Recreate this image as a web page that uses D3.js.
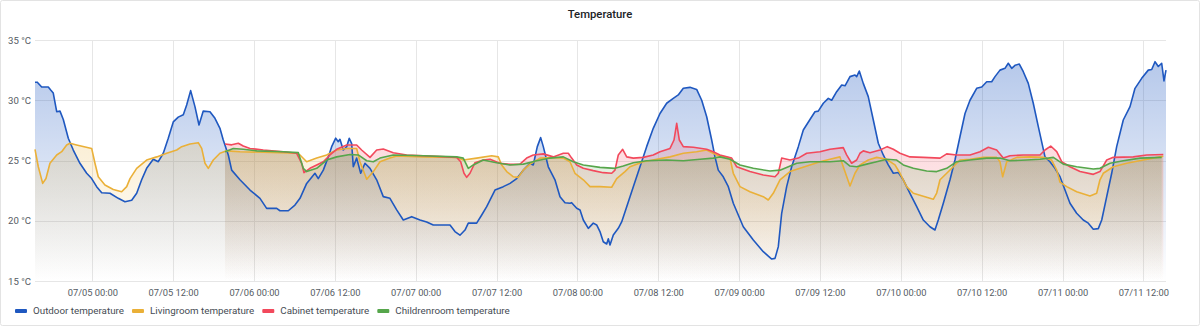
<!DOCTYPE html>
<html><head><meta charset="utf-8">
<script src="https://cdn.jsdelivr.net/npm/d3@7"></script>
<style>
html,body{margin:0;padding:0;background:#fff;}
svg{display:block;font-family:Roboto, "Open Sans", sans-serif;}
</style></head>
<body><svg id="c" width="1200" height="327"></svg>
<script>
// hours relative to 07/05 00:00, temperature in °C
const outdoor = [[-8.5,31.49],[-8.16,31.5],[-7.51,31.1],[-6.53,31.1],[-6.17,30.85],[-5.79,30.6],[-5.28,29.05],[-4.79,29.1],[-4.3,28.4],[-3.56,26.85],[-2.82,25.87],[-1.83,24.77],[-0.83,23.94],[-0.09,23.5],[0.65,22.83],[1.4,22.33],[2.63,22.28],[3.86,21.86],[4.85,21.58],[5.85,21.7],[6.59,22.28],[7.33,23.4],[8.07,24.35],[9.05,25.1],[9.8,24.9],[10.54,25.6],[11.28,26.85],[12.02,28.2],[12.76,28.6],[13.51,28.8],[14.01,29.6],[14.6,30.8],[15.24,29.47],[15.84,27.95],[16.47,29.1],[17.47,29.05],[18.21,28.5],[18.95,27.67],[19.44,26.7],[20.19,25.46],[20.69,24.2],[21.92,23.4],[23.41,22.55],[24.89,21.86],[25.88,21.03],[27.37,21.03],[27.86,20.83],[29.09,20.83],[30.08,21.3],[30.83,21.86],[31.82,23.1],[33.05,23.94],[33.54,23.5],[34.29,24.2],[35.03,25.3],[35.53,26.15],[36.13,26.85],[36.51,26.56],[36.76,26.76],[37.25,25.87],[37.76,26.15],[38.14,26.85],[38.5,26.4],[38.74,24.48],[39.24,25.2],[39.84,23.94],[40.47,24.77],[41.22,24.35],[42.21,23.4],[43.19,22.0],[44.18,21.86],[45.18,20.9],[46.16,20.06],[47.41,20.34],[48.64,20.06],[49.63,19.9],[50.61,19.65],[53.09,19.65],[53.83,19.1],[54.57,18.8],[55.32,19.23],[55.81,19.8],[57.05,19.8],[57.8,20.48],[58.54,21.17],[59.77,22.55],[61.0,22.83],[62.0,23.1],[62.99,23.5],[63.97,24.2],[64.96,24.77],[65.45,24.63],[66.05,26.15],[66.55,26.9],[66.94,26.15],[67.68,24.48],[68.67,23.4],[69.42,22.0],[70.16,21.5],[70.9,21.45],[71.15,21.5],[71.9,21.03],[72.39,20.9],[72.88,20.06],[73.62,19.37],[74.36,19.8],[74.86,19.65],[75.35,19.1],[75.84,18.26],[76.35,18.07],[76.59,18.5],[76.84,17.99],[77.33,18.82],[78.07,19.37],[78.57,19.9],[79.32,21.17],[80.3,22.83],[81.29,24.48],[82.28,26.15],[83.26,27.67],[84.26,28.9],[85.25,29.75],[86.23,30.16],[86.97,30.44],[87.72,30.99],[88.71,31.07],[89.7,30.9],[90.45,30.0],[91.19,28.63],[91.93,26.7],[92.42,25.3],[92.91,24.2],[93.65,23.65],[94.4,22.83],[95.14,21.45],[96.62,19.5],[98.11,18.4],[99.59,17.43],[100.84,16.82],[101.33,16.88],[101.82,17.85],[102.32,20.62],[103.06,22.83],[103.8,24.48],[104.79,26.15],[105.53,27.53],[106.52,28.4],[107.26,29.05],[107.75,29.1],[108.5,29.75],[109.24,30.16],[109.74,30.0],[110.48,30.71],[111.23,31.27],[111.72,31.2],[112.46,31.96],[113.2,32.1],[113.45,31.96],[113.84,32.43],[114.43,31.4],[115.17,30.3],[115.92,28.36],[116.66,26.43],[117.4,25.46],[118.14,24.63],[118.89,23.94],[119.63,24.0],[120.37,23.4],[121.36,22.28],[122.36,21.17],[123.34,20.06],[124.33,19.5],[125.07,19.23],[125.56,20.06],[126.31,21.45],[127.3,23.4],[128.04,25.04],[128.78,26.97],[129.53,28.9],[130.27,30.0],[131.26,30.99],[132.01,31.1],[132.75,31.54],[133.49,31.54],[133.98,31.96],[134.72,32.5],[135.46,32.65],[135.95,33.07],[136.46,32.65],[136.95,32.9],[137.59,33.0],[138.18,32.37],[138.92,31.4],[139.66,29.75],[140.41,27.81],[141.4,25.3],[142.14,24.9],[142.88,24.35],[143.63,23.65],[144.37,22.55],[145.11,21.45],[146.1,20.62],[147.08,20.06],[147.83,19.8],[148.57,19.3],[149.31,19.35],[149.82,20.06],[150.56,22.0],[151.3,23.94],[152.04,26.15],[153.02,28.36],[154.02,29.47],[154.76,30.99],[155.75,31.82],[156.73,32.5],[157.24,32.55],[157.73,33.2],[158.22,32.8],[158.72,33.07],[159.06,31.6],[159.36,32.5]];

const livingroom = [[-8.5,25.93],[-8.01,24.48],[-7.36,23.1],[-6.87,23.5],[-6.28,24.77],[-5.28,25.46],[-4.54,25.73],[-3.8,26.29],[-3.31,26.43],[-2.32,26.29],[-0.09,26.0],[0.4,24.77],[0.89,23.65],[1.88,22.97],[3.12,22.6],[4.36,22.41],[5.11,22.83],[5.6,23.5],[6.59,24.35],[8.07,25.04],[9.56,25.3],[11.04,25.6],[12.53,25.87],[13.27,26.15],[14.5,26.37],[15.73,26.48],[16.24,26.0],[16.73,24.77],[17.22,24.35],[17.96,25.04],[18.95,25.6],[19.95,25.8],[21.92,25.73],[25.38,25.68],[30.34,25.6],[30.83,25.46],[31.82,24.9],[33.31,25.2],[34.79,25.46],[36.27,25.87],[37.76,26.0],[39.24,26.0],[39.73,24.9],[40.73,23.44],[41.71,24.08],[42.7,24.9],[44.18,25.2],[45.18,25.37],[49.13,25.3],[54.08,25.26],[55.06,25.04],[57.05,25.2],[59.28,25.4],[60.26,25.3],[60.76,24.63],[61.51,24.08],[62.49,23.65],[63.23,23.6],[63.97,24.2],[64.96,24.7],[66.45,25.2],[68.42,25.25],[69.91,25.2],[70.9,24.9],[71.64,23.94],[72.88,23.4],[73.87,22.83],[75.35,22.83],[77.09,22.78],[77.83,23.5],[79.06,24.08],[79.81,24.48],[81.78,24.9],[83.77,25.1],[85.75,25.3],[87.72,25.6],[89.7,25.73],[91.19,25.87],[92.67,25.46],[94.65,25.2],[95.14,23.94],[96.13,22.83],[97.61,22.41],[99.59,22.0],[100.33,21.72],[101.07,22.28],[102.07,23.4],[103.55,24.08],[105.03,24.35],[106.52,24.63],[108.0,24.9],[109.49,25.1],[110.97,25.3],[111.46,24.48],[112.46,22.88],[113.2,23.94],[113.94,24.63],[115.17,25.04],[116.42,25.26],[117.9,25.1],[119.14,24.63],[119.88,23.94],[120.87,22.83],[121.86,22.28],[124.82,21.78],[125.33,22.3],[125.82,23.4],[126.81,23.94],[127.79,24.48],[128.78,25.04],[130.27,25.1],[132.25,25.26],[134.23,25.26],[134.72,24.9],[135.12,23.65],[135.72,24.9],[137.2,25.26],[139.17,25.3],[141.15,25.26],[142.39,25.04],[143.14,24.2],[143.63,23.2],[144.62,22.83],[146.1,22.41],[148.08,22.05],[149.07,22.28],[149.56,23.4],[150.05,23.94],[151.54,24.48],[153.52,24.77],[155.99,25.04],[158.47,25.3],[158.96,25.35]];

const cabinet = [[19.7,26.37],[20.69,26.3],[21.67,26.43],[22.41,26.2],[23.41,26.0],[25.38,25.87],[28.35,25.73],[30.34,25.6],[31.08,24.77],[31.42,23.99],[32.31,24.35],[33.31,24.63],[34.29,24.9],[35.28,25.46],[36.27,25.93],[37.76,26.29],[39.24,26.29],[39.98,25.87],[41.22,25.26],[42.21,25.87],[43.19,25.95],[44.67,25.65],[46.66,25.46],[49.13,25.4],[54.08,25.26],[54.68,24.9],[55.17,23.94],[55.57,23.6],[56.06,23.94],[56.8,24.82],[58.03,25.04],[59.03,25.1],[60.51,24.77],[62.0,24.68],[63.48,24.7],[64.47,25.2],[65.45,25.46],[66.94,25.55],[68.42,25.3],[69.91,25.6],[70.65,25.6],[71.15,25.2],[71.9,24.63],[72.88,24.35],[74.36,24.16],[75.84,23.99],[77.09,23.94],[77.58,24.2],[78.07,25.46],[78.72,25.93],[79.32,25.3],[80.3,25.2],[81.78,25.26],[83.26,25.46],[84.26,25.73],[85.75,26.0],[86.34,26.7],[86.74,28.09],[87.13,26.7],[87.72,26.15],[89.21,26.1],[91.19,25.93],[92.17,25.73],[93.16,25.46],[94.9,25.2],[95.64,24.48],[97.61,24.08],[99.59,23.8],[101.33,23.65],[101.82,23.94],[102.32,25.2],[103.55,25.04],[104.79,25.2],[106.03,25.6],[108.0,25.73],[109.49,25.93],[111.46,26.07],[111.96,25.46],[112.7,24.77],[113.45,25.04],[113.94,25.6],[114.43,25.8],[115.42,25.65],[116.91,25.87],[117.99,26.15],[118.89,25.93],[119.88,25.6],[121.36,25.3],[123.34,25.26],[125.82,25.2],[126.81,25.55],[128.29,25.46],[130.27,25.46],[131.76,25.73],[132.99,26.1],[134.23,25.87],[135.21,25.2],[136.21,25.4],[138.18,25.46],[140.66,25.46],[141.4,25.87],[142.25,26.2],[143.14,25.73],[143.88,24.9],[145.11,24.48],[146.6,24.08],[148.57,23.85],[149.56,24.08],[150.56,25.04],[151.54,25.26],[154.51,25.3],[156.49,25.46],[158.96,25.5]];

const childrenroom = [[19.7,25.73],[20.93,26.0],[22.41,25.93],[24.4,25.8],[28.35,25.73],[30.58,25.65],[31.32,24.35],[31.82,24.08],[33.31,24.35],[34.79,25.04],[36.27,25.3],[38.25,25.5],[39.48,25.46],[40.73,24.98],[41.71,24.9],[42.7,25.2],[44.67,25.46],[49.13,25.4],[54.08,25.3],[55.06,25.2],[55.81,24.35],[56.55,24.63],[58.03,25.04],[60.01,24.82],[62.0,24.63],[63.97,24.7],[65.96,24.98],[67.93,25.2],[69.91,25.3],[71.39,24.9],[72.88,24.63],[75.35,24.43],[77.58,24.35],[78.81,24.55],[80.3,24.82],[82.28,24.98],[85.25,25.04],[87.72,24.98],[90.21,25.1],[92.17,25.2],[93.16,25.3],[94.65,25.1],[96.13,24.63],[98.11,24.35],[100.58,24.13],[102.07,24.2],[104.55,24.77],[106.52,24.9],[109.49,24.9],[111.46,24.98],[112.46,24.54],[113.45,24.48],[114.93,24.7],[116.42,24.9],[117.9,25.1],[119.39,25.04],[120.37,24.63],[121.86,24.35],[123.84,24.13],[125.33,24.08],[126.81,24.35],[128.29,24.9],[130.27,25.04],[132.75,25.2],[134.72,25.2],[136.21,24.98],[138.68,25.04],[140.66,25.1],[142.64,25.26],[144.12,24.7],[146.1,24.48],[148.57,24.29],[149.56,24.35],[151.04,24.77],[153.02,24.98],[155.54,25.2],[158.72,25.26]];

const seriesNames = ["Outdoor temperature","Livingroom temperature","Cabinet temperature","Childrenroom temperature"];
const seriesData = [outdoor, livingroom, cabinet, childrenroom];
const yTicks = [15, 20, 25, 30, 35];
const timeStart = -8.5, timeEnd = 159.36;
const title = "Temperature";

// styles
const colors = ["#1F58C0", "#EAB038", "#F2495C", "#56A64B"];

const base = new Date(2023, 6, 5, 0, 0, 0).getTime();
const toDate = h => new Date(base + h * 3600e3);

const svg = d3.select("#c");
const M = {left: 35, right: 1166, top: 40, bottom: 281};

// panel border
svg.append("rect").attr("x",0.5).attr("y",0.5).attr("width",1199).attr("height",325)
  .attr("rx",2).attr("fill","#fff").attr("stroke","#e3e3e3");

svg.append("text").attr("x",600).attr("y",17.5).attr("text-anchor","middle")
  .attr("font-size",11.3).attr("font-weight",500).attr("fill","#202226").text(title);

const x = d3.scaleTime().domain([toDate(timeStart), toDate(timeEnd)]).range([M.left, M.right]);
const y = d3.scaleLinear().domain([15, 35]).range([M.bottom, M.top]);

const defs = svg.append("defs");
colors.forEach((c, i) => {
  const g = defs.append("linearGradient").attr("id", "g" + i)
    .attr("gradientUnits", "userSpaceOnUse").attr("x1", 0).attr("x2", 0)
    .attr("y1", M.top).attr("y2", M.bottom);
  g.append("stop").attr("offset", 0).attr("stop-color", c).attr("stop-opacity", 0.36);
  g.append("stop").attr("offset", 1).attr("stop-color", c).attr("stop-opacity", 0.0);
});

// grid
const gridG = svg.append("g");
const xTicks = x.ticks(d3.timeHour.every(12));
gridG.selectAll("line.v").data(xTicks).join("line")
  .attr("x1", d => Math.round(x(d)) + 0.5).attr("x2", d => Math.round(x(d)) + 0.5)
  .attr("y1", M.top).attr("y2", M.bottom).attr("stroke", "#e6e6e6");
gridG.selectAll("line.h").data(yTicks).join("line")
  .attr("x1", M.left).attr("x2", M.right)
  .attr("y1", d => Math.round(y(d)) + 0.5).attr("y2", d => Math.round(y(d)) + 0.5).attr("stroke", "#e6e6e6");

// axes
const yAxis = d3.axisLeft(y).tickValues(yTicks).tickSize(0).tickPadding(4).tickFormat(d => d + " °C");
const yg = svg.append("g").attr("transform", `translate(${M.left},0)`).call(yAxis);
yg.select(".domain").remove();
yg.selectAll("text").attr("font-size", 9.6).attr("fill", "#555b63").attr("font-family","Roboto");

const xAxis = d3.axisBottom(x).tickValues(xTicks).tickSize(0).tickPadding(8).tickFormat(d3.timeFormat("%m/%d %H:%M"));
const xg = svg.append("g").attr("transform", `translate(0,${M.bottom})`).call(xAxis);
xg.select(".domain").remove();
xg.selectAll("text").attr("font-size", 9.3).attr("fill", "#555b63").attr("font-family","Roboto");

// areas and lines
const area = d3.area().x(d => x(toDate(d[0]))).y0(M.bottom).y1(d => y(d[1]));
const line = d3.line().x(d => x(toDate(d[0]))).y(d => y(d[1]));
const plot = svg.append("g");
seriesData.forEach((s, i) => {
  plot.append("path").datum(s).attr("d", area).attr("fill", `url(#g${i})`);
});
seriesData.forEach((s, i) => {
  plot.append("path").datum(s).attr("d", line).attr("fill", "none")
    .attr("stroke", colors[i]).attr("stroke-width", 1.6).attr("stroke-linejoin", "round");
});

// legend
const leg = svg.append("g").attr("transform", "translate(15,311)");
let lx = 0;
seriesNames.forEach((n, i) => {
  const gi = leg.append("g").attr("transform", `translate(${lx},0)`);
  gi.append("rect").attr("x", 0).attr("y", -2).attr("width", 12).attr("height", 4).attr("rx", 1).attr("fill", colors[i]);
  const t = gi.append("text").attr("x", 18).attr("y", 0).attr("dy", "0.35em")
    .attr("font-size", 9.8).attr("fill", "#464c54").attr("font-family","Roboto").text(n);
  lx += 18 + t.node().getComputedTextLength() + 8;
});
</script></body></html>
